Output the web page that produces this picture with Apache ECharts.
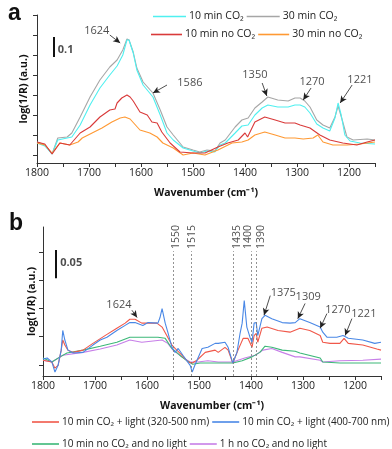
<!DOCTYPE html>
<html>
<head>
<meta charset="utf-8">
<script src="https://cdn.jsdelivr.net/npm/echarts@6/dist/echarts.min.js"></script>
<style>
  html, body { margin: 0; padding: 0; background: #fff; }
  #chart { width: 392px; height: 449px; }
</style>
</head>
<body>
<div id="chart"></div>
<script>
// ---- panel a : [wavenumber (cm-1), log(1/R)] ----
const co2_10min = [
  [1800, 0.1], [1785, 0.085], [1771, 0.045], [1760, 0.115], [1742, 0.125], [1733, 0.13], [1717, 0.19],
  [1698, 0.29], [1679, 0.375], [1660, 0.44], [1646, 0.485], [1635, 0.54], [1627, 0.615], [1623, 0.615],
  [1615, 0.55], [1608, 0.465], [1596, 0.39], [1577, 0.33], [1563, 0.24], [1550, 0.15], [1538, 0.115],
  [1519, 0.075], [1500, 0.06], [1487, 0.05], [1473, 0.06], [1458, 0.055], [1448, 0.09], [1438, 0.1],
  [1419, 0.15], [1406, 0.185], [1394, 0.19], [1381, 0.24], [1367, 0.275], [1356, 0.29], [1337, 0.28],
  [1317, 0.28], [1304, 0.29], [1294, 0.29], [1285, 0.28], [1275, 0.25], [1262, 0.195], [1250, 0.175],
  [1237, 0.16], [1227, 0.225], [1221, 0.3], [1215, 0.24], [1208, 0.14], [1198, 0.11], [1179, 0.1], [1150, 0.095]
]
const co2_30min = [
  [1800, 0.105], [1785, 0.09], [1771, 0.045], [1760, 0.125], [1742, 0.13], [1733, 0.15], [1717, 0.23],
  [1698, 0.33], [1679, 0.415], [1660, 0.48], [1646, 0.515], [1635, 0.565], [1627, 0.62], [1623, 0.615],
  [1615, 0.555], [1608, 0.475], [1596, 0.405], [1577, 0.35], [1563, 0.265], [1550, 0.18], [1538, 0.14],
  [1519, 0.08], [1500, 0.065], [1487, 0.055], [1473, 0.065], [1458, 0.06], [1448, 0.1], [1438, 0.115],
  [1419, 0.18], [1406, 0.215], [1394, 0.225], [1381, 0.275], [1367, 0.305], [1356, 0.33], [1337, 0.315],
  [1317, 0.31], [1304, 0.325], [1294, 0.325], [1285, 0.31], [1275, 0.28], [1262, 0.215], [1250, 0.19],
  [1237, 0.175], [1227, 0.23], [1221, 0.285], [1213, 0.215], [1204, 0.13], [1192, 0.115], [1165, 0.12], [1150, 0.115]
]
const noco2_10min = [
  [1800, 0.105], [1785, 0.095], [1771, 0.045], [1756, 0.1], [1737, 0.09], [1717, 0.15], [1698, 0.18],
  [1679, 0.23], [1660, 0.265], [1650, 0.27], [1646, 0.3], [1637, 0.325], [1627, 0.34], [1621, 0.33],
  [1615, 0.31], [1602, 0.255], [1588, 0.24], [1579, 0.205], [1569, 0.2], [1560, 0.155], [1544, 0.1],
  [1525, 0.055], [1500, 0.05], [1477, 0.05], [1452, 0.08], [1433, 0.1], [1413, 0.115], [1400, 0.15],
  [1395, 0.13], [1381, 0.205], [1362, 0.23], [1342, 0.215], [1323, 0.2], [1304, 0.2], [1294, 0.19],
  [1275, 0.175], [1256, 0.14], [1237, 0.115], [1212, 0.1], [1185, 0.09], [1165, 0.105], [1150, 0.115]
]
const noco2_30min = [
  [1800, 0.1], [1785, 0.09], [1771, 0.05], [1756, 0.1], [1737, 0.09], [1721, 0.105], [1713, 0.125],
  [1694, 0.15], [1675, 0.175], [1656, 0.205], [1640, 0.225], [1631, 0.23], [1621, 0.22], [1602, 0.165],
  [1583, 0.15], [1569, 0.13], [1558, 0.1], [1538, 0.075], [1519, 0.04], [1500, 0.05], [1477, 0.04],
  [1452, 0.065], [1425, 0.1], [1406, 0.105], [1394, 0.115], [1381, 0.14], [1362, 0.155], [1342, 0.14],
  [1323, 0.125], [1304, 0.125], [1288, 0.12], [1269, 0.125], [1260, 0.14], [1250, 0.105], [1231, 0.09],
  [1204, 0.09], [1179, 0.095], [1150, 0.105]
]

// ---- panel b ----
const light_320_500 = [
  [1800, 0.028], [1783, 0.025], [1777, 0.014], [1771, 0.019], [1765, 0.046], [1762, 0.064], [1758, 0.055],
  [1752, 0.046], [1742, 0.042], [1723, 0.046], [1704, 0.058], [1677, 0.074], [1658, 0.085], [1642, 0.094],
  [1633, 0.101], [1623, 0.101], [1610, 0.094], [1598, 0.094], [1581, 0.094], [1571, 0.087], [1562, 0.072],
  [1552, 0.055], [1546, 0.049], [1533, 0.037], [1521, 0.025], [1513, 0.023], [1504, 0.028], [1488, 0.042],
  [1469, 0.046], [1463, 0.042], [1450, 0.051], [1444, 0.046], [1435, 0.023], [1425, 0.046], [1415, 0.067],
  [1406, 0.067], [1398, 0.051], [1394, 0.072], [1390, 0.076], [1387, 0.06], [1379, 0.085], [1369, 0.087],
  [1348, 0.081], [1325, 0.078], [1306, 0.085], [1287, 0.081], [1267, 0.072], [1262, 0.06], [1248, 0.058],
  [1229, 0.058], [1221, 0.067], [1213, 0.058], [1185, 0.055], [1158, 0.048], [1150, 0.046]
]
const light_400_700 = [
  [1800, 0.03], [1792, 0.032], [1783, 0.025], [1777, 0.007], [1771, 0.019], [1765, 0.046], [1762, 0.081],
  [1758, 0.064], [1752, 0.046], [1742, 0.041], [1723, 0.042], [1704, 0.055], [1690, 0.064], [1677, 0.069],
  [1658, 0.081], [1642, 0.09], [1633, 0.095], [1623, 0.095], [1608, 0.09], [1598, 0.095], [1579, 0.094],
  [1575, 0.104], [1571, 0.12], [1565, 0.094], [1560, 0.078], [1552, 0.051], [1546, 0.042], [1540, 0.049],
  [1531, 0.037], [1517, 0.019], [1513, 0.007], [1508, 0.019], [1494, 0.049], [1483, 0.051], [1469, 0.058],
  [1463, 0.058], [1450, 0.06], [1444, 0.051], [1435, 0.023], [1427, 0.042], [1421, 0.076], [1417, 0.094],
  [1413, 0.134], [1408, 0.087], [1402, 0.069], [1398, 0.06], [1394, 0.094], [1390, 0.095], [1387, 0.072],
  [1379, 0.102], [1373, 0.108], [1360, 0.102], [1340, 0.095], [1325, 0.094], [1315, 0.095], [1306, 0.102],
  [1287, 0.095], [1267, 0.087], [1262, 0.078], [1254, 0.069], [1235, 0.069], [1223, 0.072], [1213, 0.067],
  [1185, 0.064], [1162, 0.058], [1150, 0.06]
]
const dark_10min = [
  [1800, 0.032], [1783, 0.025], [1767, 0.034], [1754, 0.041], [1723, 0.046], [1690, 0.053], [1658, 0.06],
  [1633, 0.069], [1610, 0.069], [1579, 0.069], [1565, 0.067], [1552, 0.049], [1537, 0.037], [1523, 0.027],
  [1512, 0.021], [1498, 0.023], [1483, 0.023], [1463, 0.023], [1435, 0.023], [1417, 0.027], [1398, 0.034],
  [1383, 0.042], [1373, 0.053], [1360, 0.051], [1340, 0.046], [1315, 0.044], [1306, 0.041], [1267, 0.032],
  [1262, 0.025], [1229, 0.023], [1196, 0.023], [1150, 0.023]
]
const dark_1h = [
  [1800, 0.028], [1783, 0.025], [1762, 0.037], [1723, 0.042], [1690, 0.048], [1658, 0.055], [1633, 0.064],
  [1610, 0.06], [1571, 0.064], [1560, 0.058], [1550, 0.046], [1533, 0.034], [1517, 0.025], [1502, 0.025],
  [1483, 0.027], [1463, 0.025], [1435, 0.025], [1412, 0.032], [1392, 0.037], [1377, 0.046], [1360, 0.049],
  [1340, 0.042], [1315, 0.034], [1306, 0.034], [1267, 0.028], [1262, 0.025], [1229, 0.027], [1185, 0.028], [1150, 0.03]
]

// peak labels: [text, label wn, label value, arrow from wn, from value, arrow tip wn, tip value]
const peaksA = [
  ['1624', 1685, 0.66, 1660, 0.64, 1640, 0.60],
  ['1586', 1506, 0.40, 1550, 0.39, 1577, 0.35],
  ['1350', 1381, 0.44, 1367, 0.40, 1358, 0.335],
  ['1270', 1271, 0.405, 1273, 0.375, 1288, 0.315],
  ['1221', 1179, 0.415, 1194, 0.39, 1217, 0.30]
]
const peaksB = [
  ['1624', 1654, 0.127, 1629, 0.117, 1619, 0.104],
  ['1375', 1338, 0.148, 1363, 0.143, 1375, 0.108],
  ['1309', 1290, 0.14, 1296, 0.129, 1310, 0.102],
  ['1270', 1233, 0.117, 1254, 0.111, 1267, 0.085],
  ['1221', 1183, 0.11, 1206, 0.102, 1219, 0.072]
]
// dashed guide lines in b and where their rotated labels sit (close ones pushed apart)
const guideLinesB = [1550, 1515, 1435, 1400, 1390]
const guideLabelAt = [1544, 1513, 1427, 1405, 1381]

const yTicksA = [0.04, 0.14, 0.24, 0.34, 0.44, 0.54, 0.64, 0.74]
const yTicksB = [0.02, 0.07, 0.12, 0.17, 0.22]

const FONT = 'Open Sans'
const chart = echarts.init(document.getElementById('chart'))

const line = (name, data, color, gi) => ({
  name, type: 'line', xAxisIndex: gi, yAxisIndex: gi, data,
  showSymbol: false, symbol: 'none',
  lineStyle: { width: 1.1, color }, itemStyle: { color }
})

const xAxis = (gi) => ({
  type: 'value', gridIndex: gi, inverse: true, min: 1150, max: 1800, interval: 50,
  axisLine: { show: true, onZero: false, lineStyle: { color: '#333' } },
  axisTick: { length: 4, lineStyle: { color: '#333' } },
  axisLabel: { color: '#222', fontSize: 10.5, margin: 5, formatter: v => (v % 100 === 0 ? String(v) : '') },
  splitLine: { show: false },
  name: 'Wavenumber (cm⁻¹)', nameLocation: 'middle', nameGap: 25,
  nameTextStyle: { fontWeight: 'bold', fontSize: 10.5, color: '#111' }
})

const yAxis = (gi, max, ticks, gap) => ({
  type: 'value', gridIndex: gi, min: 0, max,
  axisLine: { show: true, lineStyle: { color: '#333' } },
  axisTick: { show: true, length: 4, customValues: ticks, lineStyle: { color: '#333' } },
  axisLabel: { show: false },
  splitLine: { show: false },
  name: 'log(1/R) (a.u.)', nameLocation: 'middle', nameGap: gap,
  nameTextStyle: { fontWeight: 'bold', fontSize: 10.5, color: '#111' }
})

const arrowItems = (peaks) => peaks.map(p => [
  { coord: [p[3], p[4]], symbol: 'none' },
  { coord: [p[5], p[6]], symbol: 'arrow' }
])

const annotations = (gi, peaks, bar, barLabel, extraLines, extraLabels) => ({
  type: 'scatter', xAxisIndex: gi, yAxisIndex: gi, symbolSize: 0, silent: true, z: 5,
  data: peaks.map(p => ({ name: p[0], value: [p[1], p[2]] }))
    .concat([{ name: barLabel.text, value: barLabel.at, label: { fontWeight: 'bold', align: 'left' } }])
    .concat(extraLabels || []),
  label: {
    show: true, position: 'inside', formatter: '{b}', color: '#222', fontSize: 11,
    align: 'center', verticalAlign: 'middle'
  },
  markLine: {
    silent: true, symbolSize: [5, 7], animation: false,
    label: { show: false },
    lineStyle: { color: '#222', width: 0.8, type: 'solid' },
    data: arrowItems(peaks)
      .concat([[
        { coord: bar[0], symbol: 'none', lineStyle: { width: 2, color: '#111' } },
        { coord: bar[1], symbol: 'none' }
      ]])
      .concat(extraLines || [])
  }
})

const guideLines = guideLinesB.map(w => [
  { coord: [w, 0], symbol: 'none', lineStyle: { type: [2, 2], color: '#777', width: 0.8 } },
  { coord: [w, 0.222], symbol: 'none' }
])
const guideLabels = guideLinesB.map((w, i) => ({
  name: String(w), value: [guideLabelAt[i], 0.226],
  label: { rotate: 90, align: 'left', verticalAlign: 'middle', fontSize: 10.5 }
}))

const legendBase = {
  icon: 'rect', itemHeight: 1.6, itemGap: 3, width: 380,
  textStyle: { fontSize: 10.5, color: '#222', padding: [0, 0, 0, -2] }
}
const legendB = { ...legendBase, textStyle: { fontSize: 10, color: '#222', padding: [0, 0, 0, -2] } }

chart.setOption({
  animation: false,
  textStyle: { fontFamily: FONT },
  title: [
    { text: 'a', left: 3, top: -3, textStyle: { fontSize: 23, fontWeight: 'bold', fontFamily: 'Liberation Sans', color: '#111' } },
    { text: 'b', left: 4, top: 207, textStyle: { fontSize: 23, fontWeight: 'bold', fontFamily: 'Liberation Sans', color: '#111' } }
  ],
  legend: [
    { ...legendBase, left: 148, top: 6, itemWidth: 33, data: ['10 min CO₂', '30 min CO₂'] },
    { ...legendBase, left: 146, top: 24, itemWidth: 31, data: ['10 min no CO₂', '30 min no CO₂'] },
    { ...legendB, left: 27, top: 412, itemWidth: 27, data: ['10 min CO₂ + light (320-500 nm)', '10 min CO₂ + light (400-700 nm)'] },
    { ...legendB, left: 27, top: 434, itemWidth: 27, data: ['10 min no CO₂ and no light', '1 h no CO₂ and no light'] }
  ],
  grid: [
    { left: 37, top: 15, width: 338, height: 148 },
    { left: 43, top: 227, width: 338, height: 149 }
  ],
  xAxis: [xAxis(0), xAxis(1)],
  yAxis: [yAxis(0, 0.74, yTicksA, 7), yAxis(1, 0.265, yTicksB, 5)],
  series: [
    line('30 min CO₂', co2_30min, '#a6a6a6', 0),
    line('10 min CO₂', co2_10min, '#4ff0f0', 0),
    line('30 min no CO₂', noco2_30min, '#ff9933', 0),
    line('10 min no CO₂', noco2_10min, '#d93a3a', 0),
    annotations(0, peaksA, [[1767, 0.63], [1767, 0.53]], { text: '0.1', at: [1760, 0.565] }),

    line('1 h no CO₂ and no light', dark_1h, '#c77fe8', 1),
    line('10 min no CO₂ and no light', dark_10min, '#3cb878', 1),
    line('10 min CO₂ + light (320-500 nm)', light_320_500, '#f0584a', 1),
    line('10 min CO₂ + light (400-700 nm)', light_400_700, '#4a88e6', 1),
    annotations(1, peaksB, [[1775, 0.224], [1775, 0.174]], { text: '0.05', at: [1767, 0.201] }, guideLines, guideLabels)
  ]
})
</script>
</body>
</html>
